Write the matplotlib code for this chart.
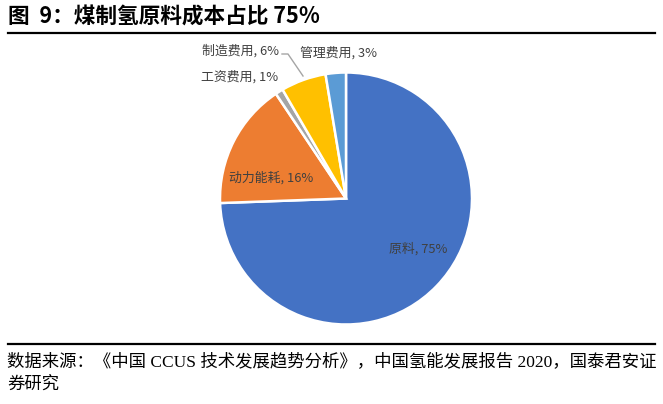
import matplotlib
matplotlib.use("Agg")
import matplotlib.pyplot as plt
from matplotlib.lines import Line2D

plt.rcParams['font.family'] = ['Noto Sans CJK SC', 'DejaVu Sans']

categories = ["原料", "动力能耗", "工资费用", "制造费用", "管理费用"]
shares     = [74.5, 16.2, 1.0, 5.8, 2.6]
pct_labels = ["75%", "16%", "1%", "6%", "3%"]  # as printed on the chart
colors     = ["#4472C4", "#ED7D31", "#A5A5A5", "#FFC000", "#5B9BD5"]

title  = "图  9：煤制氢原料成本占比 75%"
source = ["数据来源：《中国 CCUS 技术发展趋势分析》，中国氢能发展报告 2020，国泰君安证",
          "券研究"]

W, H = 663, 404
fig = plt.figure(figsize=(W / 100, H / 100), dpi=100)

# pie axes: centre (346, 198.5) px, radius 126 px
cx, cy, r = 346, 198.5, 126
ax = fig.add_axes([(cx - r) / W, 1 - (cy + r) / H, 2 * r / W, 2 * r / H])
wedges, _ = ax.pie(shares, colors=colors, startangle=90, counterclock=False,
                   radius=1, wedgeprops=dict(edgecolor="white", linewidth=1.8))
ax.set_xlim(-1, 1)
ax.set_ylim(-1, 1)
ax.set_aspect("equal")
ax.axis("off")

def px(x, y):
    return (x - cx) / r, (cy - y) / r

label_pos = {
    "原料":     (418.5, 249),
    "动力能耗": (271.5, 178),
    "工资费用": (239.5, 77),
    "制造费用": (241, 51),
    "管理费用": (338.5, 53),
}
for name, pct in zip(categories, pct_labels):
    x, y = px(*label_pos[name])
    ax.text(x, y, f"{name}, {pct}", ha="center", va="center",
            fontsize=9.3, color="#404040")

# leader line for 制造费用
lx, ly = zip(px(282, 54), px(288, 54), px(303, 76))
ax.add_line(Line2D(lx, ly, color="#A5A5A5", lw=1, clip_on=False))

fig.text(8 / W, 1 - 17 / H, title, fontsize=15.6, fontweight="bold",
         ha="left", va="center")

fig.add_artist(Line2D([8 / W, 655 / W], [1 - 33 / H, 1 - 33 / H],
                      color="black", lw=1.6))
fig.add_artist(Line2D([8 / W, 655 / W], [1 - 344 / H, 1 - 344 / H],
                      color="black", lw=1.6))

fig.text(7 / W, 1 - 362 / H, source[0], fontsize=12.5, ha="left", va="center",
         family=['Liberation Serif', 'Noto Sans CJK SC'])
fig.text(7 / W, 1 - 385 / H, source[1], fontsize=12.5, ha="left", va="center",
         family=['Liberation Serif', 'Noto Sans CJK SC'])

fig.savefig("out.png", dpi=100)
